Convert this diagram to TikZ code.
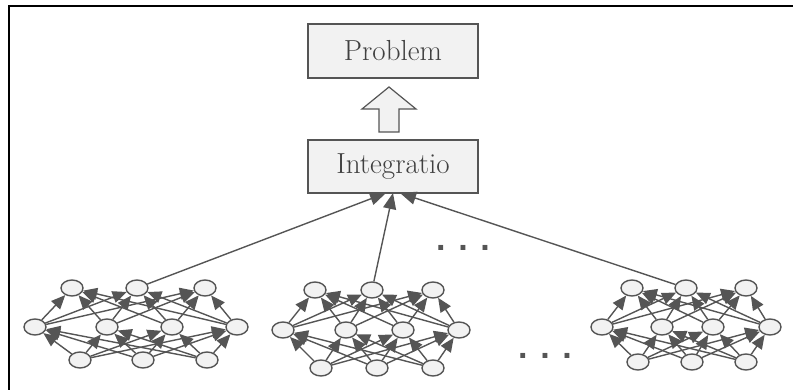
\documentclass[tikz,border=0pt]{standalone}
\usepackage{fontspec}
\usetikzlibrary{arrows.meta,shapes.geometric}
\newfontfamily\dotfont{Liberation Sans}
\definecolor{lg}{HTML}{F2F2F2}
\definecolor{dg}{HTML}{555555}
\begin{document}
\begin{tikzpicture}[x=1pt,y=-1pt,
  neuron/.style={ellipse,draw=dg,fill=lg,line width=1.4pt,minimum width=22pt,minimum height=16pt,inner sep=0pt},
  conn/.style={draw=dg,line width=1.4pt,-{Triangle[length=14pt,width=12pt]}},
  bigconn/.style={draw=dg,line width=1.4pt,-{Triangle[length=16pt,width=13pt]}},
  box/.style={draw=dg,fill=lg,line width=1.2pt,minimum width=170pt,minimum height=54pt,inner sep=0pt,text=black!75,font=\fontsize{29}{34}\selectfont},
  dots/.style={text=dg,inner sep=0pt,font=\dotfont\bfseries\fontsize{34}{40}\selectfont}
]
\useasboundingbox (0,0) rectangle (793,390);
\draw[line width=2pt,black] (9,390) |- (793,6);

\node[box] (P) at (393,51) {Problem};
\node[box,minimum height=53pt] (I) at (393,166.5) {Integratio};
\draw[draw=dg,fill=lg,line width=1.2pt] (379,132) -- (399,132) -- (399,109) -- (416,109) -- (389,87) -- (362,109) -- (379,109) -- cycle;

% network A
\foreach \x [count=\i] in {72,137,205} \node[neuron] (a-t\i) at (\x,288) {};
\foreach \x [count=\i] in {35,107,172,237} \node[neuron] (a-m\i) at (\x,327) {};
\foreach \x [count=\i] in {80,143,207} \node[neuron] (a-b\i) at (\x,360) {};
% network B
\foreach \x [count=\i] in {315,372,433} \node[neuron] (b-t\i) at (\x,290) {};
\foreach \x [count=\i] in {283,346,403,459} \node[neuron] (b-m\i) at (\x,330) {};
\foreach \x [count=\i] in {321,377,433} \node[neuron] (b-b\i) at (\x,368) {};
% network C
\foreach \x [count=\i] in {632,686,746} \node[neuron] (c-t\i) at (\x,288) {};
\foreach \x [count=\i] in {602,662,713,770} \node[neuron] (c-m\i) at (\x,327) {};
\foreach \x [count=\i] in {638,692,746} \node[neuron] (c-b\i) at (\x,362) {};

\foreach \n in {a,b,c}{
  \foreach \i in {1,2,3}{
    \foreach \j in {1,2,3,4}{
      \draw[conn] (\n-b\i) -- (\n-m\j);
      \draw[conn] (\n-m\j) -- (\n-t\i);
    }
  }
}

\coordinate (i1) at (386,193);
\coordinate (i2) at (393,193);
\coordinate (i3) at (400,193);
\draw[bigconn] (a-t2) -- (i1);
\draw[bigconn] (b-t2) -- (i2);
\draw[bigconn] (c-t2) -- (i3);

\node[dots] (d1) at (463,248) {. . .};
\node[dots] (d2) at (545,356) {. . .};
\end{tikzpicture}
\end{document}
